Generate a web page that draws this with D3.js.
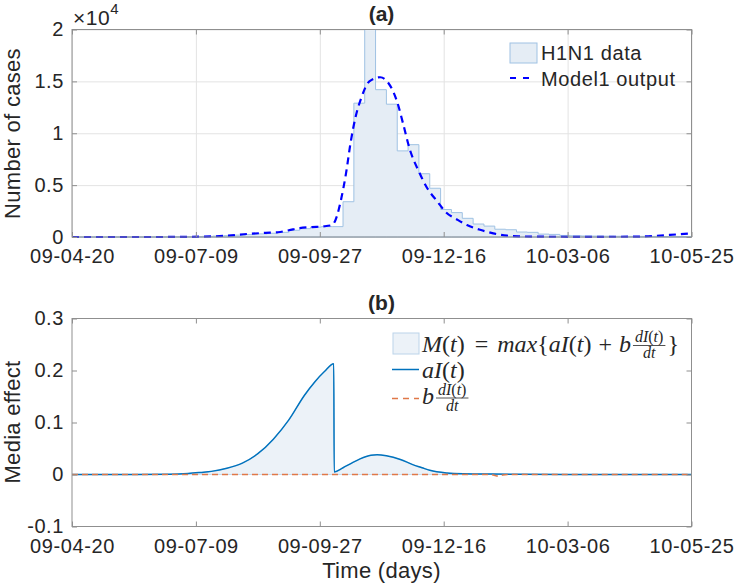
<!DOCTYPE html>
<html>
<head>
<meta charset="utf-8">
<script src="https://cdn.jsdelivr.net/npm/d3@7"></script>
<style>
  body { margin: 0; background: #fff; }
  svg text { font-family: "Liberation Sans", Arial, Helvetica, sans-serif; fill: #262626; }
  .tick text { font-size: 20px; letter-spacing: 0.6px; }
  .lbl { font-size: 22px; letter-spacing: 0.3px; }
  .leg { font-size: 20px; letter-spacing: 0.6px; }
  .math text { font-family: "Liberation Serif", "Times New Roman", serif; }
</style>
</head>
<body>
<svg id="fig" width="737" height="588"></svg>
<script>
// x axis ticks (yy-mm-dd), 80 days apart
var xTickLabels = ["09-04-20", "09-07-09", "09-09-27", "09-12-16", "10-03-06", "10-05-25"];

// (a) weekly H1N1 cases, one value per week from 09-04-20
var weeklyCases = [0, 0, 0, 0, 0, 0, 0, 0, 10, 20, 30, 40,
  60, 90, 130, 180, 230, 300, 360,
  450, 650, 800, 950, 1000, 1000,
  3400, 12900, 20000, 14200, 12800, 8300, 8900, 6100, 4700,
  2650, 2350, 1800, 1250, 1050, 750, 700, 480, 450, 280, 250, 150,
  120, 100, 90, 80, 70, 60, 60, 60, 50, 50, 50, 50];

// (a) model output, day offset from 09-04-20 -> cases
var modelDays  = [0, 40, 70, 90, 100, 113, 125, 133, 140, 147, 155, 162, 168, 171, 174, 177, 180, 183, 187, 192,
  199, 204, 210, 214, 218, 224, 229, 236, 241, 249, 255, 264, 272, 281, 290, 300, 330, 365, 375, 386, 400];
var modelCases = [0, 0, 5, 60, 120, 290, 400, 460, 650, 860, 960, 1020, 1150, 2000, 3800, 6200, 9200, 11500, 13500, 15000,
  15400, 14900, 13000, 10800, 8500, 6300, 4800, 3400, 2450, 1650, 1150, 670, 350, 130, 60, 30, 20, 30, 100, 200, 350];

// (b) media effect aI(t)
var mediaDays = [0, 40, 63, 75, 83, 90, 100, 110, 120, 130, 140, 150, 157, 163, 169, 169.3,
  175, 180, 186, 193, 197, 203, 212, 220, 226, 231, 242, 253, 272, 290, 320, 400];
var mediaAI   = [0, 0, 0.0005, 0.002, 0.004, 0.006, 0.012, 0.022, 0.040, 0.068, 0.105, 0.152, 0.179, 0.198, 0.213, 0.005,
  0.013, 0.021, 0.030, 0.037, 0.038, 0.036, 0.029, 0.019, 0.013, 0.008, 0.003, 0.0015, 0.0008, 0.0003, 0, 0];

// (b) b*dI/dt
var derivDays = [0, 268, 272, 275, 278, 282, 400];
var derivB    = [0, 0, -0.001, -0.003, -0.001, 0, 0];

var yTicksA = [0, 5000, 10000, 15000, 20000];
var yTicksB = [-0.1, 0, 0.1, 0.2, 0.3];

var axisColor = "#8f8f8f";
var svg = d3.select("#fig");

var parse = d3.utcParse("%y-%m-%d"), fmt = d3.utcFormat("%y-%m-%d");
var xTicks = xTickLabels.map(parse);
var t0 = xTicks[0], t1 = xTicks[xTicks.length - 1];
function dayDate(d) { return new Date(t0.getTime() + d * 864e5); }

var x = d3.scaleUtc().domain([t0, t1]).range([72, 691.5]);
var yA = d3.scaleLinear().domain([0, 20000]).range([237, 29.5]);
var yB = d3.scaleLinear().domain([-0.1, 0.3]).range([526.5, 318.5]);

function drawGrid(layer, y, yTicks) {
  var y0 = y.range()[0], y1 = y.range()[1];
  layer.append("g").attr("transform", "translate(0," + y0 + ")")
    .call(d3.axisBottom(x).tickValues(xTicks).tickFormat("").tickSizeInner(-(y0 - y1)).tickSizeOuter(0))
    .call(function (g) { g.select(".domain").remove(); g.selectAll("line").attr("stroke", "#e3e3e3"); });
  layer.append("g").attr("transform", "translate(" + x.range()[0] + ",0)")
    .call(d3.axisLeft(y).tickValues(yTicks).tickFormat("").tickSizeInner(-(x.range()[1] - x.range()[0])).tickSizeOuter(0))
    .call(function (g) { g.select(".domain").remove(); g.selectAll("line").attr("stroke", "#e3e3e3"); });
}

function drawAxes(layer, y, yTicks, yFmt) {
  var y0 = y.range()[0], y1 = y.range()[1], x0 = x.range()[0], x1 = x.range()[1];
  layer.append("g").attr("class", "axis").attr("transform", "translate(0," + y0 + ")")
    .call(d3.axisBottom(x).tickValues(xTicks).tickFormat(fmt).tickSizeInner(-5).tickSizeOuter(0).tickPadding(12));
  layer.append("g").attr("class", "axis").attr("transform", "translate(0," + y1 + ")")
    .call(d3.axisTop(x).tickValues(xTicks).tickFormat("").tickSizeInner(-5).tickSizeOuter(0));
  layer.append("g").attr("class", "axis").attr("transform", "translate(" + x0 + ",0)")
    .call(d3.axisLeft(y).tickValues(yTicks).tickFormat(yFmt).tickSizeInner(-5).tickSizeOuter(0).tickPadding(8));
  layer.append("g").attr("class", "axis").attr("transform", "translate(" + x1 + ",0)")
    .call(d3.axisRight(y).tickValues(yTicks).tickFormat("").tickSizeInner(-5).tickSizeOuter(0));
  layer.selectAll(".axis").attr("color", axisColor);
  layer.selectAll(".axis .domain").remove();
  layer.append("rect").attr("x", x0).attr("y", y1).attr("width", x1 - x0).attr("height", y0 - y1)
    .attr("fill", "none").attr("stroke", axisColor);
}

// ---------- panel (a) ----------
var gridA = svg.append("g"), dataA = svg.append("g"), axA = svg.append("g");
drawGrid(gridA, yA, yTicksA);

var weeks = weeklyCases.map(function (v, i) { return { date: dayDate(7 * i), v: v }; });
weeks.push({ date: t1, v: weeklyCases[weeklyCases.length - 1] });

dataA.append("path").datum(weeks)
  .attr("fill", "#e5edf5").attr("stroke", "#9fc2e3").attr("stroke-width", 1)
  .attr("d", d3.area().curve(d3.curveStepAfter)
    .x(function (d) { return x(d.date); }).y0(yA(0)).y1(function (d) { return yA(d.v); }));

var model = modelDays.map(function (d, i) { return { date: dayDate(d), v: modelCases[i] }; });
dataA.append("path").datum(model)
  .attr("fill", "none").attr("stroke", "#0000ff").attr("stroke-width", 2.2).attr("stroke-dasharray", "7,5")
  .attr("d", d3.line().curve(d3.curveMonotoneX)
    .x(function (d) { return x(d.date); }).y(function (d) { return yA(d.v); }));

drawAxes(axA, yA, yTicksA, function (d) { return String(d / 1e4); });

svg.append("text").attr("x", 381.5).attr("y", 20.5).attr("text-anchor", "middle")
  .style("font-size", "21px").style("font-weight", "bold").text("(a)");
var exp = svg.append("text").attr("x", 73).attr("y", 25).style("font-size", "21px").style("letter-spacing", "0.5px");
exp.append("tspan").text("\u00d710");
exp.append("tspan").attr("dy", -11).style("font-size", "15px").text("4");
svg.append("text").attr("class", "lbl").attr("text-anchor", "middle")
  .attr("transform", "translate(20,133.5) rotate(-90)").text("Number of cases");

// legend (a)
var legA = svg.append("g");
legA.append("rect").attr("x", 510).attr("y", 43).attr("width", 27).attr("height", 20)
  .attr("fill", "#e5edf5").attr("stroke", "#9fc2e3");
legA.append("text").attr("class", "leg").attr("x", 541).attr("y", 60).text("H1N1 data");
legA.append("line").attr("x1", 510).attr("x2", 536).attr("y1", 78).attr("y2", 78)
  .attr("stroke", "#0000ff").attr("stroke-width", 2.2).attr("stroke-dasharray", "6,7");
legA.append("text").attr("class", "leg").attr("x", 541).attr("y", 85.5).text("Model1 output");

// ---------- panel (b) ----------
var dataB = svg.append("g"), axB = svg.append("g");
var media = mediaDays.map(function (d, i) { return { date: dayDate(d), v: mediaAI[i] }; });
var deriv = derivDays.map(function (d, i) { return { date: dayDate(d), v: derivB[i] }; });

dataB.append("path").datum(media)
  .attr("fill", "#ecf2f8").attr("stroke", "#c9dcee").attr("stroke-width", 1)
  .attr("d", d3.area().curve(d3.curveMonotoneX)
    .x(function (d) { return x(d.date); }).y0(yB(0)).y1(function (d) { return yB(d.v); }));
dataB.append("path").datum(media)
  .attr("fill", "none").attr("stroke", "#0072bd").attr("stroke-width", 1.5)
  .attr("d", d3.line().curve(d3.curveMonotoneX)
    .x(function (d) { return x(d.date); }).y(function (d) { return yB(d.v); }));
dataB.append("path").datum(deriv)
  .attr("fill", "none").attr("stroke", "#e07848").attr("stroke-width", 1.6).attr("stroke-dasharray", "6,4")
  .attr("d", d3.line().curve(d3.curveMonotoneX)
    .x(function (d) { return x(d.date); }).y(function (d) { return yB(d.v); }));

drawAxes(axB, yB, yTicksB, function (d) { return String(d); });

svg.append("text").attr("x", 381.5).attr("y", 309.5).attr("text-anchor", "middle")
  .style("font-size", "21px").style("font-weight", "bold").text("(b)");
svg.append("text").attr("class", "lbl").attr("text-anchor", "middle")
  .attr("transform", "translate(20,422) rotate(-90)").text("Media effect");
svg.append("text").attr("class", "lbl").attr("x", 381.5).attr("y", 578).attr("text-anchor", "middle").text("Time (days)");

// legend (b), LaTeX-like text
var legB = svg.append("g").attr("class", "math");

function mathRun(x0, yb, size, parts) {
  var t = legB.append("text").attr("x", x0).attr("y", yb).style("font-size", size + "px");
  parts.forEach(function (p) {
    t.append("tspan").attr("dx", p[2] || 0).style("font-style", p[1] ? "italic" : "normal").text(p[0]);
  });
  var bb = t.node().getBBox();
  return bb.x + bb.width;
}
function frac(x0, yb) {
  var bar = yb - 6;
  var num = legB.append("text").attr("x", x0 + 2).attr("y", bar - 3.5).style("font-size", "16px");
  [["d", 1], ["I", 1], ["(", 0], ["t", 1], [")", 0]].forEach(function (p) {
    num.append("tspan").style("font-style", p[1] ? "italic" : "normal").text(p[0]);
  });
  var w = num.node().getBBox().width + 4;
  legB.append("text").attr("x", x0 + w / 2).attr("y", bar + 12.5).attr("text-anchor", "middle")
    .style("font-size", "16px").style("font-style", "italic").text("dt");
  legB.append("line").attr("x1", x0).attr("x2", x0 + w).attr("y1", bar).attr("y2", bar)
    .attr("stroke", "#262626").attr("stroke-width", 0.8);
  return x0 + w;
}

legB.append("rect").attr("x", 393).attr("y", 333).attr("width", 26).attr("height", 21)
  .attr("fill", "#ecf2f8").attr("stroke", "#bcd4ea");
var e1 = mathRun(422, 351.5, 24, [["M", 1], ["(", 0], ["t", 1], [")", 0], ["=", 0, 10], ["max", 1, 9], ["{", 0],
  ["a", 1], ["I", 1], ["(", 0], ["t", 1], [")", 0], ["+", 0, 7], ["b", 1, 7]]);
var e2 = frac(e1 + 2, 351.5);
mathRun(e2 + 2, 351.5, 24, [["}", 0]]);

legB.append("line").attr("x1", 392).attr("x2", 419).attr("y1", 369.5).attr("y2", 369.5)
  .attr("stroke", "#0072bd").attr("stroke-width", 1.5);
mathRun(422, 377.5, 24, [["a", 1], ["I", 1], ["(", 0], ["t", 1], [")", 0]]);

legB.append("line").attr("x1", 392).attr("x2", 419).attr("y1", 398.5).attr("y2", 398.5)
  .attr("stroke", "#e07848").attr("stroke-width", 1.6).attr("stroke-dasharray", "6,5");
var e3 = mathRun(422, 404, 24, [["b", 1]]);
frac(e3 + 2, 404);
</script>
</body>
</html>
